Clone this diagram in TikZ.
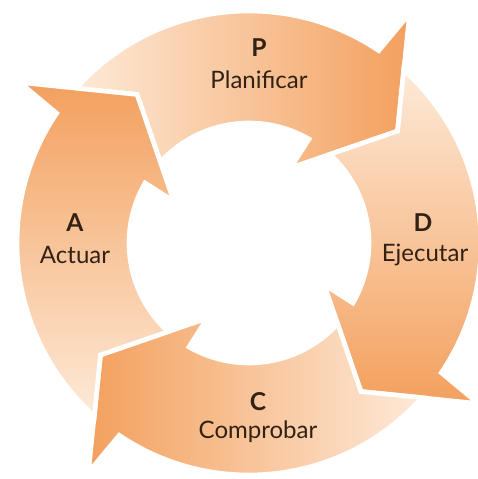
\documentclass[tikz,border=0pt]{standalone}
\usepackage{fontspec}
\setmainfont{Lato}
\usetikzlibrary{positioning}

\definecolor{pdcadark}{RGB}{243,160,94}
\definecolor{pdcalight}{RGB}{253,234,216}
\definecolor{pdcatext}{RGB}{50,34,22}

\begin{document}
\begin{tikzpicture}[scale=0.03,
    cyc/.style={draw=white,line width=4pt},
    letter/.style={font=\bfseries\fontsize{21}{24}\selectfont,text=pdcatext},
    word/.style={font=\fontsize{20.5}{24}\selectfont,text=pdcatext}]
  \useasboundingbox (-249,-236) rectangle (228,243);

  % P, top
  \path[cyc,left color=pdcalight,right color=pdcadark]
    (138.2:232) arc[start angle=138.2,end angle=56,radius=232] -- (55:280)
    -- (37:186) -- (61:86) -- (60:120) arc[start angle=60,end angle=137.6,radius=120]
    -- (127:186) -- cycle;
  % D, right
  \path[cyc,rotate=-90,top color=pdcalight,bottom color=pdcadark]
    (138.2:232) arc[start angle=138.2,end angle=56,radius=232] -- (55:280)
    -- (37:186) -- (61:86) -- (60:120) arc[start angle=60,end angle=137.6,radius=120]
    -- (127:186) -- cycle;
  % C, bottom
  \path[cyc,rotate=180,left color=pdcadark,right color=pdcalight]
    (138.2:232) arc[start angle=138.2,end angle=56,radius=232] -- (55:280)
    -- (37:186) -- (61:86) -- (60:120) arc[start angle=60,end angle=137.6,radius=120]
    -- (127:186) -- cycle;
  % A, left
  \path[cyc,rotate=90,top color=pdcadark,bottom color=pdcalight]
    (138.2:232) arc[start angle=138.2,end angle=56,radius=232] -- (55:280)
    -- (37:186) -- (61:86) -- (60:120) arc[start angle=60,end angle=137.6,radius=120]
    -- (127:186) -- cycle;

  \node[letter] (p) at (10,195) {P};
  \node[word] (plan) at (10,163) {Planificar};
  \node[letter] (d) at (174,20) {D};
  \node[word] (ejec) at (176,-12) {Ejecutar};
  \node[letter] (c) at (9,-159) {C};
  \node[word] (comp) at (9,-189) {Comprobar};
  \node[letter] (a) at (-174,20) {A};
  \node[word] (act) at (-174,-12) {Actuar};
\end{tikzpicture}
\end{document}
